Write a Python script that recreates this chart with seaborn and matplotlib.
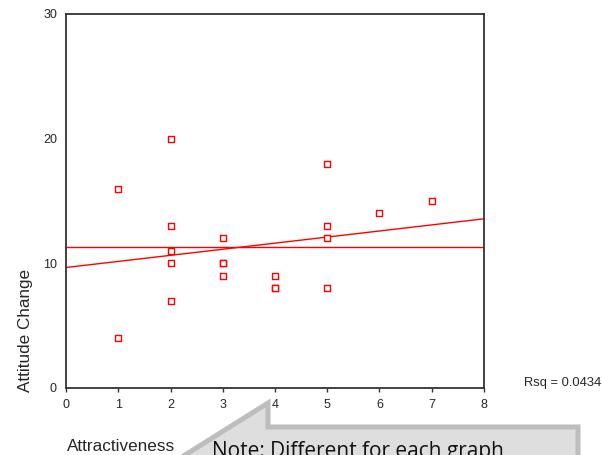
import numpy as np
import pandas as pd
import matplotlib
matplotlib.use("Agg")
import matplotlib.pyplot as plt
from matplotlib.patches import Polygon
import seaborn as sns

# Observations: attractiveness rating vs. attitude change
attractiveness = [1, 1, 2, 2, 2, 2, 2, 3, 3, 3, 3, 4, 4, 4, 5, 5, 5, 5, 6, 7]
attitude_change = [16, 4, 20, 13, 11, 10, 7, 12, 10, 10, 9, 9, 8, 8, 18, 13, 12, 8, 14, 15]
x_ticks = [0, 1, 2, 3, 4, 5, 6, 7, 8]
y_ticks = [0, 10, 20, 30]
note_text = "Note: Different for each graph"

df = pd.DataFrame({"Attractiveness": attractiveness, "Attitude Change": attitude_change})

sns.set_style("white")
plt.rcParams["font.family"] = ["Liberation Sans", "DejaVu Sans"]

W, H = 602, 455
fig = plt.figure(figsize=(W / 100, H / 100), dpi=100)
ax = fig.add_axes([66 / W, 1 - 388 / H, 418 / W, 374 / H])

ax.set_xlim(0, 8)
ax.set_ylim(0, 30)

red = "#ff0000"
sns.scatterplot(data=df, x="Attractiveness", y="Attitude Change", ax=ax,
                marker="s", s=13, facecolor="white", edgecolor=red,
                linewidth=1.0, zorder=3)
sns.regplot(data=df, x="Attractiveness", y="Attitude Change", ax=ax,
            scatter=False, ci=None, truncate=False,
            line_kws={"color": red, "lw": 1.0})
ax.axhline(np.mean(attitude_change), color=red, lw=1.0)

ax.set_xlim(0, 8)
ax.set_ylim(0, 30)
ax.set_xticks(x_ticks)
ax.set_yticks(y_ticks)
ax.tick_params(axis="x", length=3, width=1, color="#333333", direction="out",
               labelsize=9, pad=5, bottom=True)
ax.tick_params(axis="y", length=0, labelsize=9, pad=6.5)

for sp in ax.spines.values():
    sp.set_color("#333333")
    sp.set_linewidth(1.3)

ax.set_xlabel("Attractiveness", fontsize=12.3)
ax.xaxis.set_label_coords((121 - 66) / 418, (388 - 439) / 374)
ax.set_ylabel("Attitude Change", fontsize=12.3)
ax.yaxis.set_label_coords((33 - 66) / 418, (388 - 330) / 374)

# R-squared of the linear fit
r = np.corrcoef(attractiveness, attitude_change)[0, 1]
ax.text((524 - 66) / 418, (388 - 383) / 374, f"Rsq = {r**2:.4f}",
        transform=ax.transAxes, fontsize=9.3, va="center", ha="left")

# Callout arrow with note
def fp(x, y):
    return (x / W, 1 - y / H)

verts = [fp(268, 403), fp(268, 427), fp(578, 427), fp(578, 500),
         fp(230, 500), fp(185, 455)]
arrow = Polygon(verts, closed=True, transform=fig.transFigure,
                facecolor="#dedede", edgecolor="#bdbdbd", linewidth=3.6,
                joinstyle="miter", clip_on=False)
fig.patches.append(arrow)
fig.text(212 / W, 1 - 457 / H, note_text, fontsize=15,
         family=["Open Sans", "DejaVu Sans"], color="#111111",
         ha="left", va="baseline")

fig.savefig("out.png", dpi=100)
